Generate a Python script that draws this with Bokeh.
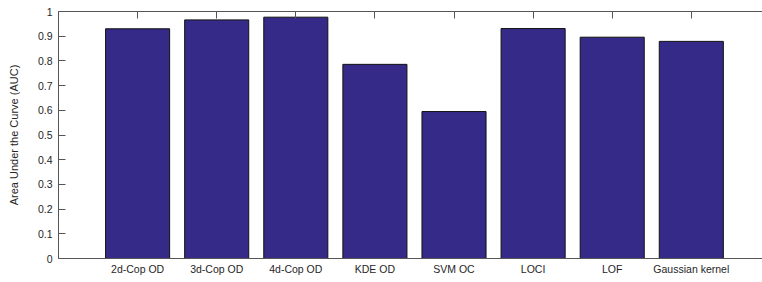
from bokeh.plotting import figure
from bokeh.models import FixedTicker, LinearAxis, Range1d, ColumnDataSource
from bokeh.embed import file_html
from bokeh.resources import INLINE

methods = ["2d-Cop OD", "3d-Cop OD", "4d-Cop OD", "KDE OD", "SVM OC", "LOCI", "LOF", "Gaussian kernel"]
auc = [0.930, 0.966, 0.977, 0.786, 0.595, 0.931, 0.896, 0.879]
y_ticks = [0, 0.1, 0.2, 0.3, 0.4, 0.5, 0.6, 0.7, 0.8, 0.9, 1.0]
y_tick_labels = ["0", "0.1", "0.2", "0.3", "0.4", "0.5", "0.6", "0.7", "0.8", "0.9", "1"]

positions = list(range(1, len(methods) + 1))
src = ColumnDataSource(dict(x=positions, top=auc))

FONT = "Liberation Sans"
TXT = "#262626"
AX = "#555555"

p = figure(width=762, height=277, output_backend="svg", toolbar_location=None,
           x_range=Range1d(0, 8.9), y_range=Range1d(0, 1),
           x_axis_location="below")
p.min_border_left = 58
p.min_border_right = 0
p.min_border_top = 11
p.min_border_bottom = 0
p.outline_line_color = None
p.grid.visible = False
p.background_fill_color = "white"
p.border_fill_color = "white"

p.vbar(x="x", top="top", width=0.81, bottom=0, source=src,
       fill_color="#352A87", line_color="#111111", line_width=1)

xa = p.xaxis[0]
xa.ticker = FixedTicker(ticks=positions)
xa.major_label_overrides = {i: m for i, m in zip(positions, methods)}
xa.major_tick_in = 0
xa.major_tick_out = 0
xa.minor_tick_line_color = None
xa.axis_line_color = AX
xa.major_label_text_font = FONT
xa.major_label_text_font_size = "10.5px"
xa.major_label_text_color = TXT
xa.major_label_standoff = 4

ya = p.yaxis[0]
ya.ticker = FixedTicker(ticks=y_ticks)
ya.major_label_overrides = {t: l for t, l in zip(y_ticks, y_tick_labels)}
ya.major_tick_in = 7
ya.major_tick_out = 0
ya.major_tick_line_color = AX
ya.minor_tick_line_color = None
ya.axis_line_color = AX
ya.major_label_text_font = FONT
ya.major_label_text_font_size = "10.5px"
ya.major_label_text_color = TXT
ya.major_label_standoff = 6
ya.axis_label = "Area Under the Curve (AUC)"
ya.axis_label_text_font = FONT
ya.axis_label_text_font_size = "11px"
ya.axis_label_text_font_style = "normal"
ya.axis_label_text_color = TXT
ya.axis_label_standoff = 15

top = LinearAxis(ticker=FixedTicker(ticks=positions))
top.major_label_overrides = {i: "" for i in positions}
top.major_label_standoff = 0
top.major_tick_in = 7
top.major_tick_out = 0
top.major_tick_line_color = AX
top.minor_tick_line_color = None
top.axis_line_color = AX
p.add_layout(top, "above")

open("out.html", "w").write(file_html(p, INLINE))
